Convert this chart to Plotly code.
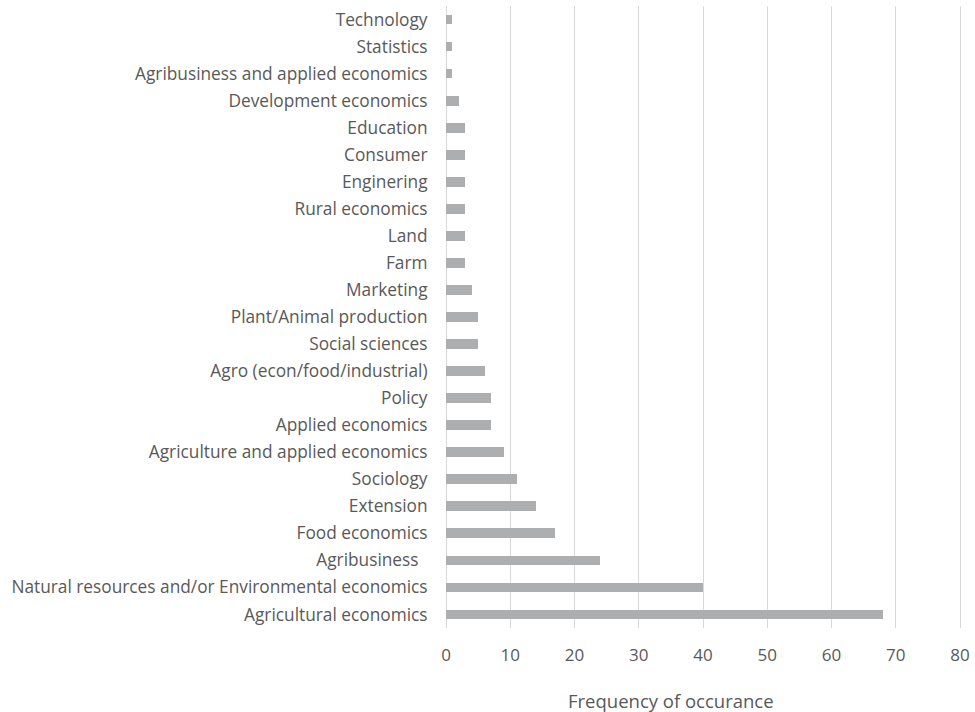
import plotly.graph_objects as go

categories = [
    "Technology", "Statistics", "Agribusiness and applied economics",
    "Development economics", "Education", "Consumer", "Enginering",
    "Rural economics", "Land", "Farm", "Marketing", "Plant/Animal production",
    "Social sciences", "Agro (econ/food/industrial)", "Policy",
    "Applied economics", "Agriculture and applied economics", "Sociology",
    "Extension", "Food economics", "Agribusiness  ",
    "Natural resources and/or Environmental economics", "Agricultural economics",
]
values = [1, 1, 1, 2, 3, 3, 3, 3, 3, 3, 4, 5, 5, 6, 7, 7, 9, 11, 14, 17, 24, 40, 68]
x_ticks = [0, 10, 20, 30, 40, 50, 60, 70, 80]
x_title = "Frequency of occurance"

# bottom-to-top order for plotly
cats_plot = categories[::-1]
vals_plot = values[::-1]

fig = go.Figure(go.Bar(
    x=vals_plot, y=cats_plot, orientation="h",
    marker=dict(color="#ADAEB0", line=dict(width=0)),
    width=0.36,
))

font_color = "#595959"
fig.update_layout(
    width=975, height=712,
    margin=dict(l=446, r=13, t=6, b=84),
    plot_bgcolor="white", paper_bgcolor="white",
    font=dict(family="Open Sans", size=15, color=font_color),
    showlegend=False,
    bargap=0,
)
fig.update_xaxes(
    range=[0, 80.3], tickvals=x_ticks, showgrid=True, gridcolor="#D9D9D9",
    gridwidth=1.3, zeroline=True, zerolinecolor="#D9D9D9", zerolinewidth=1.3,
    ticks="outside", ticklen=12, tickcolor="rgba(0,0,0,0)",
    tickfont=dict(size=17, color=font_color), fixedrange=True,
)
fig.update_yaxes(
    categoryorder="array", categoryarray=cats_plot,
    range=[-0.5, len(cats_plot) - 0.5],
    showgrid=False, ticks="outside", ticklen=14, tickcolor="rgba(0,0,0,0)",
    tickfont=dict(size=17.3, color=font_color), automargin=False,
)
fig.add_annotation(
    text=x_title, xref="paper", yref="paper", x=0.436, y=0,
    yshift=-72, showarrow=False, xanchor="center", yanchor="middle",
    font=dict(size=18.5, color=font_color),
)

fig.write_html(
    "out.html",
    config={"displayModeBar": False},
    post_script="document.body.style.margin='0';document.body.style.overflow='hidden';",
)
